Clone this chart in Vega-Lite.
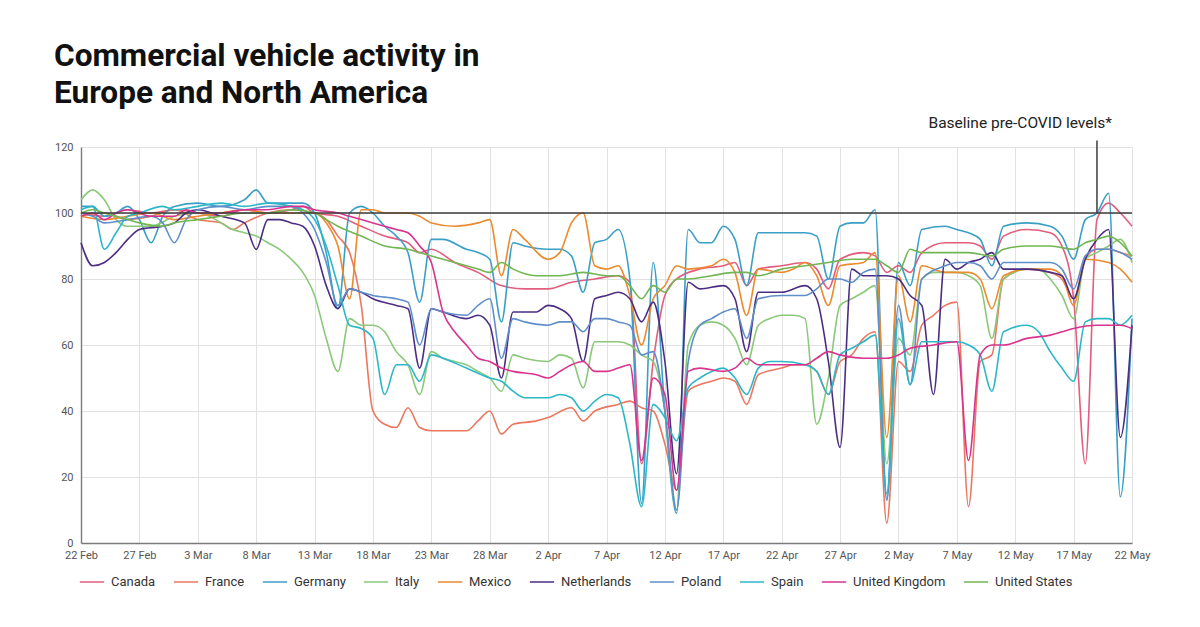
{
  "$schema": "https://vega.github.io/schema/vega-lite/v6.json",
  "autosize": {"type": "none"},
  "width": 1051,
  "height": 396,
  "padding": {"left": 81, "top": 147, "right": 68, "bottom": 84},
  "background": "white",
  "title": {
    "text": ["Commercial vehicle activity in", "Europe and North America"],
    "anchor": "start",
    "frame": "group",
    "font": "Roboto",
    "fontSize": 31.6,
    "fontWeight": "bold",
    "color": "#111111",
    "lineHeight": 37,
    "offset": 6,
    "dx": -27
  },
  "layer": [
    {
      "data": {"values": [
    {"c":"Canada","d":"2020-02-22","v":100},{"c":"Canada","d":"2020-02-24","v":99},{"c":"Canada","d":"2020-02-26","v":101},{"c":"Canada","d":"2020-02-28","v":100},{"c":"Canada","d":"2020-03-01","v":101},{"c":"Canada","d":"2020-03-03","v":100},{"c":"Canada","d":"2020-03-05","v":99},{"c":"Canada","d":"2020-03-07","v":101},{"c":"Canada","d":"2020-03-09","v":100},{"c":"Canada","d":"2020-03-11","v":101},{"c":"Canada","d":"2020-03-12","v":102},{"c":"Canada","d":"2020-03-13","v":100},{"c":"Canada","d":"2020-03-15","v":99},{"c":"Canada","d":"2020-03-17","v":96},{"c":"Canada","d":"2020-03-19","v":93},{"c":"Canada","d":"2020-03-21","v":91},{"c":"Canada","d":"2020-03-22","v":88},{"c":"Canada","d":"2020-03-23","v":89},{"c":"Canada","d":"2020-03-25","v":85},{"c":"Canada","d":"2020-03-27","v":82},{"c":"Canada","d":"2020-03-29","v":78},{"c":"Canada","d":"2020-03-31","v":77},{"c":"Canada","d":"2020-04-02","v":77},{"c":"Canada","d":"2020-04-04","v":79},{"c":"Canada","d":"2020-04-06","v":80},{"c":"Canada","d":"2020-04-08","v":81},{"c":"Canada","d":"2020-04-09","v":79},{"c":"Canada","d":"2020-04-10","v":24},{"c":"Canada","d":"2020-04-11","v":55},{"c":"Canada","d":"2020-04-12","v":75},{"c":"Canada","d":"2020-04-13","v":80},{"c":"Canada","d":"2020-04-15","v":83},{"c":"Canada","d":"2020-04-17","v":84},{"c":"Canada","d":"2020-04-18","v":85},{"c":"Canada","d":"2020-04-19","v":78},{"c":"Canada","d":"2020-04-20","v":83},{"c":"Canada","d":"2020-04-22","v":84},{"c":"Canada","d":"2020-04-24","v":85},{"c":"Canada","d":"2020-04-25","v":83},{"c":"Canada","d":"2020-04-26","v":77},{"c":"Canada","d":"2020-04-27","v":86},{"c":"Canada","d":"2020-04-29","v":88},{"c":"Canada","d":"2020-04-30","v":87},{"c":"Canada","d":"2020-05-01","v":82},{"c":"Canada","d":"2020-05-02","v":84},{"c":"Canada","d":"2020-05-03","v":82},{"c":"Canada","d":"2020-05-04","v":88},{"c":"Canada","d":"2020-05-06","v":91},{"c":"Canada","d":"2020-05-08","v":91},{"c":"Canada","d":"2020-05-09","v":90},{"c":"Canada","d":"2020-05-10","v":86},{"c":"Canada","d":"2020-05-11","v":93},{"c":"Canada","d":"2020-05-13","v":95},{"c":"Canada","d":"2020-05-15","v":94},{"c":"Canada","d":"2020-05-16","v":90},{"c":"Canada","d":"2020-05-17","v":74},{"c":"Canada","d":"2020-05-18","v":24},{"c":"Canada","d":"2020-05-19","v":98},{"c":"Canada","d":"2020-05-20","v":103},{"c":"Canada","d":"2020-05-21","v":100},{"c":"Canada","d":"2020-05-22","v":96},

    {"c":"France","d":"2020-02-22","v":99},{"c":"France","d":"2020-02-24","v":100},{"c":"France","d":"2020-02-26","v":98},{"c":"France","d":"2020-02-28","v":99},{"c":"France","d":"2020-03-01","v":101},{"c":"France","d":"2020-03-03","v":98},{"c":"France","d":"2020-03-05","v":97},{"c":"France","d":"2020-03-06","v":95},{"c":"France","d":"2020-03-07","v":97},{"c":"France","d":"2020-03-09","v":100},{"c":"France","d":"2020-03-11","v":101},{"c":"France","d":"2020-03-13","v":100},{"c":"France","d":"2020-03-14","v":98},{"c":"France","d":"2020-03-15","v":93},{"c":"France","d":"2020-03-16","v":88},{"c":"France","d":"2020-03-17","v":72},{"c":"France","d":"2020-03-18","v":40},{"c":"France","d":"2020-03-19","v":36},{"c":"France","d":"2020-03-20","v":35},{"c":"France","d":"2020-03-21","v":41},{"c":"France","d":"2020-03-22","v":35},{"c":"France","d":"2020-03-23","v":34},{"c":"France","d":"2020-03-25","v":34},{"c":"France","d":"2020-03-26","v":34},{"c":"France","d":"2020-03-27","v":37},{"c":"France","d":"2020-03-28","v":40},{"c":"France","d":"2020-03-29","v":33},{"c":"France","d":"2020-03-30","v":36},{"c":"France","d":"2020-04-01","v":37},{"c":"France","d":"2020-04-02","v":38},{"c":"France","d":"2020-04-04","v":41},{"c":"France","d":"2020-04-05","v":37},{"c":"France","d":"2020-04-06","v":40},{"c":"France","d":"2020-04-08","v":42},{"c":"France","d":"2020-04-09","v":43},{"c":"France","d":"2020-04-10","v":41},{"c":"France","d":"2020-04-11","v":40},{"c":"France","d":"2020-04-12","v":30},{"c":"France","d":"2020-04-13","v":16},{"c":"France","d":"2020-04-14","v":46},{"c":"France","d":"2020-04-15","v":48},{"c":"France","d":"2020-04-16","v":49},{"c":"France","d":"2020-04-17","v":50},{"c":"France","d":"2020-04-18","v":49},{"c":"France","d":"2020-04-19","v":42},{"c":"France","d":"2020-04-20","v":51},{"c":"France","d":"2020-04-22","v":53},{"c":"France","d":"2020-04-23","v":54},{"c":"France","d":"2020-04-24","v":54},{"c":"France","d":"2020-04-25","v":52},{"c":"France","d":"2020-04-26","v":45},{"c":"France","d":"2020-04-27","v":55},{"c":"France","d":"2020-04-28","v":57},{"c":"France","d":"2020-04-29","v":62},{"c":"France","d":"2020-04-30","v":64},{"c":"France","d":"2020-05-01","v":6},{"c":"France","d":"2020-05-02","v":55},{"c":"France","d":"2020-05-03","v":52},{"c":"France","d":"2020-05-04","v":66},{"c":"France","d":"2020-05-05","v":69},{"c":"France","d":"2020-05-06","v":72},{"c":"France","d":"2020-05-07","v":73},{"c":"France","d":"2020-05-08","v":11},{"c":"France","d":"2020-05-09","v":55},{"c":"France","d":"2020-05-10","v":57},{"c":"France","d":"2020-05-11","v":80},{"c":"France","d":"2020-05-13","v":83},{"c":"France","d":"2020-05-15","v":82},{"c":"France","d":"2020-05-16","v":80},{"c":"France","d":"2020-05-17","v":74},{"c":"France","d":"2020-05-18","v":86},{"c":"France","d":"2020-05-19","v":89},{"c":"France","d":"2020-05-20","v":89},{"c":"France","d":"2020-05-21","v":88},{"c":"France","d":"2020-05-22","v":87},

    {"c":"Germany","d":"2020-02-22","v":102},{"c":"Germany","d":"2020-02-23","v":102},{"c":"Germany","d":"2020-02-24","v":99},{"c":"Germany","d":"2020-02-25","v":100},{"c":"Germany","d":"2020-02-26","v":102},{"c":"Germany","d":"2020-02-27","v":98},{"c":"Germany","d":"2020-02-28","v":91},{"c":"Germany","d":"2020-02-29","v":99},{"c":"Germany","d":"2020-03-01","v":102},{"c":"Germany","d":"2020-03-03","v":103},{"c":"Germany","d":"2020-03-05","v":102},{"c":"Germany","d":"2020-03-07","v":104},{"c":"Germany","d":"2020-03-08","v":107},{"c":"Germany","d":"2020-03-09","v":103},{"c":"Germany","d":"2020-03-11","v":103},{"c":"Germany","d":"2020-03-12","v":103},{"c":"Germany","d":"2020-03-13","v":100},{"c":"Germany","d":"2020-03-14","v":88},{"c":"Germany","d":"2020-03-15","v":71},{"c":"Germany","d":"2020-03-16","v":100},{"c":"Germany","d":"2020-03-17","v":102},{"c":"Germany","d":"2020-03-18","v":100},{"c":"Germany","d":"2020-03-19","v":96},{"c":"Germany","d":"2020-03-20","v":93},{"c":"Germany","d":"2020-03-21","v":88},{"c":"Germany","d":"2020-03-22","v":73},{"c":"Germany","d":"2020-03-23","v":92},{"c":"Germany","d":"2020-03-24","v":92},{"c":"Germany","d":"2020-03-26","v":89},{"c":"Germany","d":"2020-03-27","v":88},{"c":"Germany","d":"2020-03-28","v":86},{"c":"Germany","d":"2020-03-29","v":67},{"c":"Germany","d":"2020-03-30","v":91},{"c":"Germany","d":"2020-03-31","v":90},{"c":"Germany","d":"2020-04-02","v":89},{"c":"Germany","d":"2020-04-03","v":89},{"c":"Germany","d":"2020-04-04","v":87},{"c":"Germany","d":"2020-04-05","v":76},{"c":"Germany","d":"2020-04-06","v":91},{"c":"Germany","d":"2020-04-07","v":92},{"c":"Germany","d":"2020-04-08","v":95},{"c":"Germany","d":"2020-04-09","v":80},{"c":"Germany","d":"2020-04-10","v":12},{"c":"Germany","d":"2020-04-11","v":85},{"c":"Germany","d":"2020-04-12","v":40},{"c":"Germany","d":"2020-04-13","v":9},{"c":"Germany","d":"2020-04-14","v":95},{"c":"Germany","d":"2020-04-15","v":91},{"c":"Germany","d":"2020-04-16","v":91},{"c":"Germany","d":"2020-04-17","v":96},{"c":"Germany","d":"2020-04-18","v":92},{"c":"Germany","d":"2020-04-19","v":78},{"c":"Germany","d":"2020-04-20","v":94},{"c":"Germany","d":"2020-04-22","v":94},{"c":"Germany","d":"2020-04-24","v":94},{"c":"Germany","d":"2020-04-25","v":93},{"c":"Germany","d":"2020-04-26","v":80},{"c":"Germany","d":"2020-04-27","v":96},{"c":"Germany","d":"2020-04-28","v":97},{"c":"Germany","d":"2020-04-29","v":97},{"c":"Germany","d":"2020-04-30","v":101},{"c":"Germany","d":"2020-05-01","v":13},{"c":"Germany","d":"2020-05-02","v":85},{"c":"Germany","d":"2020-05-03","v":78},{"c":"Germany","d":"2020-05-04","v":95},{"c":"Germany","d":"2020-05-06","v":96},{"c":"Germany","d":"2020-05-07","v":95},{"c":"Germany","d":"2020-05-08","v":94},{"c":"Germany","d":"2020-05-09","v":92},{"c":"Germany","d":"2020-05-10","v":84},{"c":"Germany","d":"2020-05-11","v":96},{"c":"Germany","d":"2020-05-13","v":97},{"c":"Germany","d":"2020-05-15","v":96},{"c":"Germany","d":"2020-05-16","v":93},{"c":"Germany","d":"2020-05-17","v":86},{"c":"Germany","d":"2020-05-18","v":98},{"c":"Germany","d":"2020-05-19","v":100},{"c":"Germany","d":"2020-05-20","v":106},{"c":"Germany","d":"2020-05-21","v":14},{"c":"Germany","d":"2020-05-22","v":68},

    {"c":"Italy","d":"2020-02-22","v":104},{"c":"Italy","d":"2020-02-23","v":107},{"c":"Italy","d":"2020-02-24","v":104},{"c":"Italy","d":"2020-02-25","v":98},{"c":"Italy","d":"2020-02-26","v":96},{"c":"Italy","d":"2020-02-28","v":96},{"c":"Italy","d":"2020-03-01","v":99},{"c":"Italy","d":"2020-03-03","v":100},{"c":"Italy","d":"2020-03-04","v":99},{"c":"Italy","d":"2020-03-05","v":97},{"c":"Italy","d":"2020-03-06","v":95},{"c":"Italy","d":"2020-03-07","v":94},{"c":"Italy","d":"2020-03-08","v":93},{"c":"Italy","d":"2020-03-09","v":91},{"c":"Italy","d":"2020-03-10","v":89},{"c":"Italy","d":"2020-03-11","v":86},{"c":"Italy","d":"2020-03-12","v":82},{"c":"Italy","d":"2020-03-13","v":75},{"c":"Italy","d":"2020-03-14","v":62},{"c":"Italy","d":"2020-03-15","v":52},{"c":"Italy","d":"2020-03-16","v":68},{"c":"Italy","d":"2020-03-17","v":66},{"c":"Italy","d":"2020-03-18","v":66},{"c":"Italy","d":"2020-03-19","v":64},{"c":"Italy","d":"2020-03-20","v":58},{"c":"Italy","d":"2020-03-21","v":54},{"c":"Italy","d":"2020-03-22","v":45},{"c":"Italy","d":"2020-03-23","v":58},{"c":"Italy","d":"2020-03-24","v":56},{"c":"Italy","d":"2020-03-25","v":55},{"c":"Italy","d":"2020-03-26","v":54},{"c":"Italy","d":"2020-03-27","v":52},{"c":"Italy","d":"2020-03-28","v":50},{"c":"Italy","d":"2020-03-29","v":46},{"c":"Italy","d":"2020-03-30","v":57},{"c":"Italy","d":"2020-03-31","v":56},{"c":"Italy","d":"2020-04-02","v":55},{"c":"Italy","d":"2020-04-03","v":57},{"c":"Italy","d":"2020-04-04","v":56},{"c":"Italy","d":"2020-04-05","v":47},{"c":"Italy","d":"2020-04-06","v":61},{"c":"Italy","d":"2020-04-08","v":61},{"c":"Italy","d":"2020-04-09","v":60},{"c":"Italy","d":"2020-04-10","v":57},{"c":"Italy","d":"2020-04-11","v":55},{"c":"Italy","d":"2020-04-12","v":40},{"c":"Italy","d":"2020-04-13","v":10},{"c":"Italy","d":"2020-04-14","v":60},{"c":"Italy","d":"2020-04-15","v":66},{"c":"Italy","d":"2020-04-16","v":67},{"c":"Italy","d":"2020-04-17","v":66},{"c":"Italy","d":"2020-04-18","v":62},{"c":"Italy","d":"2020-04-19","v":54},{"c":"Italy","d":"2020-04-20","v":66},{"c":"Italy","d":"2020-04-21","v":68},{"c":"Italy","d":"2020-04-22","v":69},{"c":"Italy","d":"2020-04-23","v":69},{"c":"Italy","d":"2020-04-24","v":68},{"c":"Italy","d":"2020-04-25","v":36},{"c":"Italy","d":"2020-04-26","v":50},{"c":"Italy","d":"2020-04-27","v":72},{"c":"Italy","d":"2020-04-28","v":74},{"c":"Italy","d":"2020-04-29","v":76},{"c":"Italy","d":"2020-04-30","v":78},{"c":"Italy","d":"2020-05-01","v":24},{"c":"Italy","d":"2020-05-02","v":62},{"c":"Italy","d":"2020-05-03","v":57},{"c":"Italy","d":"2020-05-04","v":80},{"c":"Italy","d":"2020-05-05","v":82},{"c":"Italy","d":"2020-05-07","v":82},{"c":"Italy","d":"2020-05-08","v":81},{"c":"Italy","d":"2020-05-09","v":78},{"c":"Italy","d":"2020-05-10","v":62},{"c":"Italy","d":"2020-05-11","v":80},{"c":"Italy","d":"2020-05-13","v":83},{"c":"Italy","d":"2020-05-14","v":83},{"c":"Italy","d":"2020-05-15","v":80},{"c":"Italy","d":"2020-05-16","v":75},{"c":"Italy","d":"2020-05-17","v":68},{"c":"Italy","d":"2020-05-18","v":86},{"c":"Italy","d":"2020-05-19","v":88},{"c":"Italy","d":"2020-05-20","v":90},{"c":"Italy","d":"2020-05-21","v":92},{"c":"Italy","d":"2020-05-22","v":85},

    {"c":"Mexico","d":"2020-02-22","v":99},{"c":"Mexico","d":"2020-02-24","v":98},{"c":"Mexico","d":"2020-02-26","v":99},{"c":"Mexico","d":"2020-02-28","v":100},{"c":"Mexico","d":"2020-03-01","v":98},{"c":"Mexico","d":"2020-03-03","v":99},{"c":"Mexico","d":"2020-03-05","v":100},{"c":"Mexico","d":"2020-03-07","v":101},{"c":"Mexico","d":"2020-03-09","v":100},{"c":"Mexico","d":"2020-03-11","v":100},{"c":"Mexico","d":"2020-03-13","v":100},{"c":"Mexico","d":"2020-03-14","v":97},{"c":"Mexico","d":"2020-03-15","v":90},{"c":"Mexico","d":"2020-03-16","v":74},{"c":"Mexico","d":"2020-03-17","v":101},{"c":"Mexico","d":"2020-03-18","v":101},{"c":"Mexico","d":"2020-03-19","v":100},{"c":"Mexico","d":"2020-03-21","v":100},{"c":"Mexico","d":"2020-03-22","v":99},{"c":"Mexico","d":"2020-03-23","v":97},{"c":"Mexico","d":"2020-03-25","v":96},{"c":"Mexico","d":"2020-03-27","v":97},{"c":"Mexico","d":"2020-03-28","v":98},{"c":"Mexico","d":"2020-03-29","v":81},{"c":"Mexico","d":"2020-03-30","v":95},{"c":"Mexico","d":"2020-03-31","v":92},{"c":"Mexico","d":"2020-04-02","v":86},{"c":"Mexico","d":"2020-04-03","v":88},{"c":"Mexico","d":"2020-04-04","v":97},{"c":"Mexico","d":"2020-04-05","v":100},{"c":"Mexico","d":"2020-04-06","v":84},{"c":"Mexico","d":"2020-04-07","v":83},{"c":"Mexico","d":"2020-04-08","v":84},{"c":"Mexico","d":"2020-04-09","v":75},{"c":"Mexico","d":"2020-04-10","v":60},{"c":"Mexico","d":"2020-04-11","v":74},{"c":"Mexico","d":"2020-04-12","v":78},{"c":"Mexico","d":"2020-04-13","v":84},{"c":"Mexico","d":"2020-04-14","v":83},{"c":"Mexico","d":"2020-04-16","v":84},{"c":"Mexico","d":"2020-04-17","v":86},{"c":"Mexico","d":"2020-04-18","v":82},{"c":"Mexico","d":"2020-04-19","v":69},{"c":"Mexico","d":"2020-04-20","v":83},{"c":"Mexico","d":"2020-04-22","v":82},{"c":"Mexico","d":"2020-04-23","v":83},{"c":"Mexico","d":"2020-04-24","v":85},{"c":"Mexico","d":"2020-04-25","v":81},{"c":"Mexico","d":"2020-04-26","v":72},{"c":"Mexico","d":"2020-04-27","v":84},{"c":"Mexico","d":"2020-04-29","v":85},{"c":"Mexico","d":"2020-04-30","v":88},{"c":"Mexico","d":"2020-05-01","v":32},{"c":"Mexico","d":"2020-05-02","v":81},{"c":"Mexico","d":"2020-05-03","v":67},{"c":"Mexico","d":"2020-05-04","v":84},{"c":"Mexico","d":"2020-05-06","v":82},{"c":"Mexico","d":"2020-05-08","v":82},{"c":"Mexico","d":"2020-05-09","v":80},{"c":"Mexico","d":"2020-05-10","v":71},{"c":"Mexico","d":"2020-05-11","v":81},{"c":"Mexico","d":"2020-05-13","v":83},{"c":"Mexico","d":"2020-05-15","v":83},{"c":"Mexico","d":"2020-05-16","v":81},{"c":"Mexico","d":"2020-05-17","v":72},{"c":"Mexico","d":"2020-05-18","v":86},{"c":"Mexico","d":"2020-05-20","v":85},{"c":"Mexico","d":"2020-05-21","v":83},{"c":"Mexico","d":"2020-05-22","v":79},

    {"c":"Netherlands","d":"2020-02-22","v":91},{"c":"Netherlands","d":"2020-02-23","v":84},{"c":"Netherlands","d":"2020-02-24","v":85},{"c":"Netherlands","d":"2020-02-25","v":88},{"c":"Netherlands","d":"2020-02-26","v":92},{"c":"Netherlands","d":"2020-02-27","v":95},{"c":"Netherlands","d":"2020-02-29","v":96},{"c":"Netherlands","d":"2020-03-01","v":97},{"c":"Netherlands","d":"2020-03-02","v":100},{"c":"Netherlands","d":"2020-03-03","v":101},{"c":"Netherlands","d":"2020-03-05","v":99},{"c":"Netherlands","d":"2020-03-07","v":97},{"c":"Netherlands","d":"2020-03-08","v":89},{"c":"Netherlands","d":"2020-03-09","v":98},{"c":"Netherlands","d":"2020-03-10","v":98},{"c":"Netherlands","d":"2020-03-11","v":97},{"c":"Netherlands","d":"2020-03-12","v":96},{"c":"Netherlands","d":"2020-03-13","v":90},{"c":"Netherlands","d":"2020-03-14","v":78},{"c":"Netherlands","d":"2020-03-15","v":71},{"c":"Netherlands","d":"2020-03-16","v":77},{"c":"Netherlands","d":"2020-03-17","v":76},{"c":"Netherlands","d":"2020-03-18","v":74},{"c":"Netherlands","d":"2020-03-20","v":72},{"c":"Netherlands","d":"2020-03-21","v":71},{"c":"Netherlands","d":"2020-03-22","v":53},{"c":"Netherlands","d":"2020-03-23","v":71},{"c":"Netherlands","d":"2020-03-24","v":70},{"c":"Netherlands","d":"2020-03-26","v":68},{"c":"Netherlands","d":"2020-03-27","v":69},{"c":"Netherlands","d":"2020-03-28","v":66},{"c":"Netherlands","d":"2020-03-29","v":50},{"c":"Netherlands","d":"2020-03-30","v":70},{"c":"Netherlands","d":"2020-04-01","v":70},{"c":"Netherlands","d":"2020-04-02","v":72},{"c":"Netherlands","d":"2020-04-03","v":71},{"c":"Netherlands","d":"2020-04-04","v":68},{"c":"Netherlands","d":"2020-04-05","v":55},{"c":"Netherlands","d":"2020-04-06","v":74},{"c":"Netherlands","d":"2020-04-07","v":75},{"c":"Netherlands","d":"2020-04-08","v":76},{"c":"Netherlands","d":"2020-04-09","v":74},{"c":"Netherlands","d":"2020-04-10","v":67},{"c":"Netherlands","d":"2020-04-11","v":73},{"c":"Netherlands","d":"2020-04-12","v":55},{"c":"Netherlands","d":"2020-04-13","v":21},{"c":"Netherlands","d":"2020-04-14","v":79},{"c":"Netherlands","d":"2020-04-15","v":77},{"c":"Netherlands","d":"2020-04-17","v":78},{"c":"Netherlands","d":"2020-04-18","v":74},{"c":"Netherlands","d":"2020-04-19","v":58},{"c":"Netherlands","d":"2020-04-20","v":76},{"c":"Netherlands","d":"2020-04-22","v":76},{"c":"Netherlands","d":"2020-04-24","v":78},{"c":"Netherlands","d":"2020-04-25","v":74},{"c":"Netherlands","d":"2020-04-26","v":55},{"c":"Netherlands","d":"2020-04-27","v":29},{"c":"Netherlands","d":"2020-04-28","v":83},{"c":"Netherlands","d":"2020-04-29","v":81},{"c":"Netherlands","d":"2020-05-01","v":81},{"c":"Netherlands","d":"2020-05-02","v":80},{"c":"Netherlands","d":"2020-05-03","v":75},{"c":"Netherlands","d":"2020-05-04","v":72},{"c":"Netherlands","d":"2020-05-05","v":45},{"c":"Netherlands","d":"2020-05-06","v":86},{"c":"Netherlands","d":"2020-05-07","v":83},{"c":"Netherlands","d":"2020-05-08","v":85},{"c":"Netherlands","d":"2020-05-09","v":86},{"c":"Netherlands","d":"2020-05-10","v":88},{"c":"Netherlands","d":"2020-05-11","v":83},{"c":"Netherlands","d":"2020-05-13","v":83},{"c":"Netherlands","d":"2020-05-15","v":82},{"c":"Netherlands","d":"2020-05-16","v":81},{"c":"Netherlands","d":"2020-05-17","v":74},{"c":"Netherlands","d":"2020-05-18","v":86},{"c":"Netherlands","d":"2020-05-19","v":92},{"c":"Netherlands","d":"2020-05-20","v":95},{"c":"Netherlands","d":"2020-05-21","v":32},{"c":"Netherlands","d":"2020-05-22","v":66},

    {"c":"Poland","d":"2020-02-22","v":100},{"c":"Poland","d":"2020-02-23","v":99},{"c":"Poland","d":"2020-02-24","v":97},{"c":"Poland","d":"2020-02-26","v":98},{"c":"Poland","d":"2020-02-28","v":99},{"c":"Poland","d":"2020-02-29","v":97},{"c":"Poland","d":"2020-03-01","v":91},{"c":"Poland","d":"2020-03-02","v":98},{"c":"Poland","d":"2020-03-03","v":101},{"c":"Poland","d":"2020-03-05","v":102},{"c":"Poland","d":"2020-03-07","v":101},{"c":"Poland","d":"2020-03-09","v":102},{"c":"Poland","d":"2020-03-11","v":102},{"c":"Poland","d":"2020-03-12","v":100},{"c":"Poland","d":"2020-03-13","v":95},{"c":"Poland","d":"2020-03-14","v":85},{"c":"Poland","d":"2020-03-15","v":72},{"c":"Poland","d":"2020-03-16","v":77},{"c":"Poland","d":"2020-03-17","v":76},{"c":"Poland","d":"2020-03-18","v":75},{"c":"Poland","d":"2020-03-20","v":74},{"c":"Poland","d":"2020-03-21","v":73},{"c":"Poland","d":"2020-03-22","v":60},{"c":"Poland","d":"2020-03-23","v":71},{"c":"Poland","d":"2020-03-24","v":70},{"c":"Poland","d":"2020-03-26","v":69},{"c":"Poland","d":"2020-03-27","v":72},{"c":"Poland","d":"2020-03-28","v":74},{"c":"Poland","d":"2020-03-29","v":56},{"c":"Poland","d":"2020-03-30","v":68},{"c":"Poland","d":"2020-03-31","v":67},{"c":"Poland","d":"2020-04-02","v":66},{"c":"Poland","d":"2020-04-03","v":67},{"c":"Poland","d":"2020-04-04","v":67},{"c":"Poland","d":"2020-04-05","v":64},{"c":"Poland","d":"2020-04-06","v":68},{"c":"Poland","d":"2020-04-07","v":68},{"c":"Poland","d":"2020-04-08","v":67},{"c":"Poland","d":"2020-04-09","v":66},{"c":"Poland","d":"2020-04-10","v":57},{"c":"Poland","d":"2020-04-11","v":58},{"c":"Poland","d":"2020-04-12","v":40},{"c":"Poland","d":"2020-04-13","v":10},{"c":"Poland","d":"2020-04-14","v":55},{"c":"Poland","d":"2020-04-15","v":66},{"c":"Poland","d":"2020-04-16","v":68},{"c":"Poland","d":"2020-04-17","v":70},{"c":"Poland","d":"2020-04-18","v":71},{"c":"Poland","d":"2020-04-19","v":62},{"c":"Poland","d":"2020-04-20","v":74},{"c":"Poland","d":"2020-04-22","v":75},{"c":"Poland","d":"2020-04-24","v":75},{"c":"Poland","d":"2020-04-25","v":77},{"c":"Poland","d":"2020-04-26","v":80},{"c":"Poland","d":"2020-04-27","v":80},{"c":"Poland","d":"2020-04-28","v":79},{"c":"Poland","d":"2020-04-29","v":82},{"c":"Poland","d":"2020-04-30","v":83},{"c":"Poland","d":"2020-05-01","v":13},{"c":"Poland","d":"2020-05-02","v":72},{"c":"Poland","d":"2020-05-03","v":48},{"c":"Poland","d":"2020-05-04","v":80},{"c":"Poland","d":"2020-05-06","v":84},{"c":"Poland","d":"2020-05-07","v":85},{"c":"Poland","d":"2020-05-08","v":85},{"c":"Poland","d":"2020-05-09","v":84},{"c":"Poland","d":"2020-05-10","v":80},{"c":"Poland","d":"2020-05-11","v":85},{"c":"Poland","d":"2020-05-13","v":85},{"c":"Poland","d":"2020-05-15","v":85},{"c":"Poland","d":"2020-05-16","v":83},{"c":"Poland","d":"2020-05-17","v":77},{"c":"Poland","d":"2020-05-18","v":87},{"c":"Poland","d":"2020-05-19","v":89},{"c":"Poland","d":"2020-05-20","v":89},{"c":"Poland","d":"2020-05-21","v":88},{"c":"Poland","d":"2020-05-22","v":86},

    {"c":"Spain","d":"2020-02-22","v":101},{"c":"Spain","d":"2020-02-23","v":102},{"c":"Spain","d":"2020-02-24","v":89},{"c":"Spain","d":"2020-02-25","v":94},{"c":"Spain","d":"2020-02-26","v":99},{"c":"Spain","d":"2020-02-27","v":100},{"c":"Spain","d":"2020-02-29","v":102},{"c":"Spain","d":"2020-03-01","v":101},{"c":"Spain","d":"2020-03-03","v":102},{"c":"Spain","d":"2020-03-05","v":103},{"c":"Spain","d":"2020-03-07","v":102},{"c":"Spain","d":"2020-03-09","v":103},{"c":"Spain","d":"2020-03-11","v":102},{"c":"Spain","d":"2020-03-12","v":101},{"c":"Spain","d":"2020-03-13","v":98},{"c":"Spain","d":"2020-03-14","v":90},{"c":"Spain","d":"2020-03-15","v":78},{"c":"Spain","d":"2020-03-16","v":66},{"c":"Spain","d":"2020-03-17","v":65},{"c":"Spain","d":"2020-03-18","v":62},{"c":"Spain","d":"2020-03-19","v":45},{"c":"Spain","d":"2020-03-20","v":54},{"c":"Spain","d":"2020-03-21","v":54},{"c":"Spain","d":"2020-03-22","v":49},{"c":"Spain","d":"2020-03-23","v":57},{"c":"Spain","d":"2020-03-24","v":56},{"c":"Spain","d":"2020-03-26","v":53},{"c":"Spain","d":"2020-03-28","v":50},{"c":"Spain","d":"2020-03-29","v":49},{"c":"Spain","d":"2020-03-30","v":46},{"c":"Spain","d":"2020-03-31","v":44},{"c":"Spain","d":"2020-04-02","v":44},{"c":"Spain","d":"2020-04-03","v":45},{"c":"Spain","d":"2020-04-04","v":44},{"c":"Spain","d":"2020-04-05","v":40},{"c":"Spain","d":"2020-04-06","v":43},{"c":"Spain","d":"2020-04-07","v":45},{"c":"Spain","d":"2020-04-08","v":44},{"c":"Spain","d":"2020-04-09","v":30},{"c":"Spain","d":"2020-04-10","v":11},{"c":"Spain","d":"2020-04-11","v":42},{"c":"Spain","d":"2020-04-12","v":38},{"c":"Spain","d":"2020-04-13","v":31},{"c":"Spain","d":"2020-04-14","v":47},{"c":"Spain","d":"2020-04-15","v":50},{"c":"Spain","d":"2020-04-16","v":52},{"c":"Spain","d":"2020-04-17","v":53},{"c":"Spain","d":"2020-04-18","v":50},{"c":"Spain","d":"2020-04-19","v":45},{"c":"Spain","d":"2020-04-20","v":53},{"c":"Spain","d":"2020-04-21","v":55},{"c":"Spain","d":"2020-04-22","v":55},{"c":"Spain","d":"2020-04-24","v":54},{"c":"Spain","d":"2020-04-25","v":52},{"c":"Spain","d":"2020-04-26","v":45},{"c":"Spain","d":"2020-04-27","v":57},{"c":"Spain","d":"2020-04-28","v":59},{"c":"Spain","d":"2020-04-29","v":61},{"c":"Spain","d":"2020-04-30","v":63},{"c":"Spain","d":"2020-05-01","v":15},{"c":"Spain","d":"2020-05-02","v":68},{"c":"Spain","d":"2020-05-03","v":48},{"c":"Spain","d":"2020-05-04","v":61},{"c":"Spain","d":"2020-05-06","v":61},{"c":"Spain","d":"2020-05-07","v":61},{"c":"Spain","d":"2020-05-08","v":60},{"c":"Spain","d":"2020-05-09","v":57},{"c":"Spain","d":"2020-05-10","v":46},{"c":"Spain","d":"2020-05-11","v":64},{"c":"Spain","d":"2020-05-13","v":66},{"c":"Spain","d":"2020-05-14","v":64},{"c":"Spain","d":"2020-05-15","v":58},{"c":"Spain","d":"2020-05-16","v":53},{"c":"Spain","d":"2020-05-17","v":49},{"c":"Spain","d":"2020-05-18","v":67},{"c":"Spain","d":"2020-05-19","v":68},{"c":"Spain","d":"2020-05-20","v":68},{"c":"Spain","d":"2020-05-21","v":66},{"c":"Spain","d":"2020-05-22","v":69},

    {"c":"United Kingdom","d":"2020-02-22","v":99},{"c":"United Kingdom","d":"2020-02-23","v":100},{"c":"United Kingdom","d":"2020-02-24","v":98},{"c":"United Kingdom","d":"2020-02-25","v":100},{"c":"United Kingdom","d":"2020-02-26","v":101},{"c":"United Kingdom","d":"2020-02-28","v":99},{"c":"United Kingdom","d":"2020-03-01","v":99},{"c":"United Kingdom","d":"2020-03-02","v":101},{"c":"United Kingdom","d":"2020-03-03","v":100},{"c":"United Kingdom","d":"2020-03-05","v":100},{"c":"United Kingdom","d":"2020-03-07","v":101},{"c":"United Kingdom","d":"2020-03-09","v":101},{"c":"United Kingdom","d":"2020-03-11","v":102},{"c":"United Kingdom","d":"2020-03-12","v":102},{"c":"United Kingdom","d":"2020-03-13","v":101},{"c":"United Kingdom","d":"2020-03-15","v":100},{"c":"United Kingdom","d":"2020-03-16","v":99},{"c":"United Kingdom","d":"2020-03-17","v":98},{"c":"United Kingdom","d":"2020-03-18","v":97},{"c":"United Kingdom","d":"2020-03-19","v":96},{"c":"United Kingdom","d":"2020-03-20","v":95},{"c":"United Kingdom","d":"2020-03-21","v":94},{"c":"United Kingdom","d":"2020-03-22","v":90},{"c":"United Kingdom","d":"2020-03-23","v":85},{"c":"United Kingdom","d":"2020-03-24","v":70},{"c":"United Kingdom","d":"2020-03-25","v":64},{"c":"United Kingdom","d":"2020-03-26","v":60},{"c":"United Kingdom","d":"2020-03-27","v":56},{"c":"United Kingdom","d":"2020-03-28","v":55},{"c":"United Kingdom","d":"2020-03-29","v":53},{"c":"United Kingdom","d":"2020-03-30","v":52},{"c":"United Kingdom","d":"2020-04-01","v":51},{"c":"United Kingdom","d":"2020-04-02","v":50},{"c":"United Kingdom","d":"2020-04-03","v":52},{"c":"United Kingdom","d":"2020-04-04","v":54},{"c":"United Kingdom","d":"2020-04-05","v":55},{"c":"United Kingdom","d":"2020-04-06","v":52},{"c":"United Kingdom","d":"2020-04-07","v":52},{"c":"United Kingdom","d":"2020-04-08","v":53},{"c":"United Kingdom","d":"2020-04-09","v":54},{"c":"United Kingdom","d":"2020-04-10","v":25},{"c":"United Kingdom","d":"2020-04-11","v":50},{"c":"United Kingdom","d":"2020-04-12","v":45},{"c":"United Kingdom","d":"2020-04-13","v":16},{"c":"United Kingdom","d":"2020-04-14","v":52},{"c":"United Kingdom","d":"2020-04-15","v":53},{"c":"United Kingdom","d":"2020-04-17","v":52},{"c":"United Kingdom","d":"2020-04-18","v":53},{"c":"United Kingdom","d":"2020-04-19","v":56},{"c":"United Kingdom","d":"2020-04-20","v":54},{"c":"United Kingdom","d":"2020-04-22","v":54},{"c":"United Kingdom","d":"2020-04-24","v":54},{"c":"United Kingdom","d":"2020-04-25","v":56},{"c":"United Kingdom","d":"2020-04-26","v":58},{"c":"United Kingdom","d":"2020-04-27","v":57},{"c":"United Kingdom","d":"2020-04-29","v":56},{"c":"United Kingdom","d":"2020-05-01","v":56},{"c":"United Kingdom","d":"2020-05-02","v":57},{"c":"United Kingdom","d":"2020-05-03","v":59},{"c":"United Kingdom","d":"2020-05-05","v":60},{"c":"United Kingdom","d":"2020-05-07","v":61},{"c":"United Kingdom","d":"2020-05-08","v":25},{"c":"United Kingdom","d":"2020-05-09","v":57},{"c":"United Kingdom","d":"2020-05-10","v":60},{"c":"United Kingdom","d":"2020-05-11","v":60},{"c":"United Kingdom","d":"2020-05-13","v":62},{"c":"United Kingdom","d":"2020-05-15","v":63},{"c":"United Kingdom","d":"2020-05-16","v":64},{"c":"United Kingdom","d":"2020-05-17","v":65},{"c":"United Kingdom","d":"2020-05-19","v":66},{"c":"United Kingdom","d":"2020-05-21","v":66},{"c":"United Kingdom","d":"2020-05-22","v":65},

    {"c":"United States","d":"2020-02-22","v":100},{"c":"United States","d":"2020-02-23","v":101},{"c":"United States","d":"2020-02-24","v":100},{"c":"United States","d":"2020-02-25","v":99},{"c":"United States","d":"2020-02-26","v":98},{"c":"United States","d":"2020-02-27","v":97},{"c":"United States","d":"2020-02-29","v":96},{"c":"United States","d":"2020-03-01","v":97},{"c":"United States","d":"2020-03-03","v":98},{"c":"United States","d":"2020-03-05","v":99},{"c":"United States","d":"2020-03-07","v":100},{"c":"United States","d":"2020-03-09","v":100},{"c":"United States","d":"2020-03-11","v":101},{"c":"United States","d":"2020-03-13","v":100},{"c":"United States","d":"2020-03-14","v":98},{"c":"United States","d":"2020-03-15","v":96},{"c":"United States","d":"2020-03-17","v":93},{"c":"United States","d":"2020-03-19","v":90},{"c":"United States","d":"2020-03-21","v":89},{"c":"United States","d":"2020-03-22","v":88},{"c":"United States","d":"2020-03-23","v":87},{"c":"United States","d":"2020-03-25","v":85},{"c":"United States","d":"2020-03-27","v":83},{"c":"United States","d":"2020-03-28","v":82},{"c":"United States","d":"2020-03-29","v":85},{"c":"United States","d":"2020-03-30","v":83},{"c":"United States","d":"2020-04-01","v":81},{"c":"United States","d":"2020-04-03","v":81},{"c":"United States","d":"2020-04-05","v":82},{"c":"United States","d":"2020-04-07","v":81},{"c":"United States","d":"2020-04-08","v":81},{"c":"United States","d":"2020-04-09","v":78},{"c":"United States","d":"2020-04-10","v":74},{"c":"United States","d":"2020-04-11","v":78},{"c":"United States","d":"2020-04-12","v":76},{"c":"United States","d":"2020-04-13","v":80},{"c":"United States","d":"2020-04-14","v":80},{"c":"United States","d":"2020-04-16","v":81},{"c":"United States","d":"2020-04-18","v":82},{"c":"United States","d":"2020-04-19","v":82},{"c":"United States","d":"2020-04-20","v":81},{"c":"United States","d":"2020-04-22","v":83},{"c":"United States","d":"2020-04-24","v":84},{"c":"United States","d":"2020-04-26","v":85},{"c":"United States","d":"2020-04-28","v":86},{"c":"United States","d":"2020-04-30","v":86},{"c":"United States","d":"2020-05-01","v":84},{"c":"United States","d":"2020-05-02","v":82},{"c":"United States","d":"2020-05-03","v":89},{"c":"United States","d":"2020-05-04","v":88},{"c":"United States","d":"2020-05-06","v":88},{"c":"United States","d":"2020-05-08","v":88},{"c":"United States","d":"2020-05-10","v":87},{"c":"United States","d":"2020-05-11","v":89},{"c":"United States","d":"2020-05-13","v":90},{"c":"United States","d":"2020-05-15","v":90},{"c":"United States","d":"2020-05-17","v":89},{"c":"United States","d":"2020-05-18","v":91},{"c":"United States","d":"2020-05-19","v":92},{"c":"United States","d":"2020-05-20","v":93},{"c":"United States","d":"2020-05-21","v":91},{"c":"United States","d":"2020-05-22","v":87}
      ]},
      "mark": {"type": "line", "interpolate": "monotone", "strokeWidth": 1.6},
      "encoding": {
        "x": {
          "field": "d",
          "type": "temporal",
          "scale": {
            "type": "utc",
            "nice": false,
            "domain": [
              {"year": 2020, "month": "feb", "date": 22, "utc": true},
              {"year": 2020, "month": "may", "date": 22, "utc": true}
            ]
          },
          "axis": {
            "title": null,
            "labelExpr": "utcFormat(datum.value, '%-d %b')",
            "labelFlush": false,
            "labelOverlap": false,
            "values": [
              {"year": 2020, "month": "feb", "date": 22, "utc": true},
              {"year": 2020, "month": "feb", "date": 27, "utc": true},
              {"year": 2020, "month": "mar", "date": 3, "utc": true},
              {"year": 2020, "month": "mar", "date": 8, "utc": true},
              {"year": 2020, "month": "mar", "date": 13, "utc": true},
              {"year": 2020, "month": "mar", "date": 18, "utc": true},
              {"year": 2020, "month": "mar", "date": 23, "utc": true},
              {"year": 2020, "month": "mar", "date": 28, "utc": true},
              {"year": 2020, "month": "apr", "date": 2, "utc": true},
              {"year": 2020, "month": "apr", "date": 7, "utc": true},
              {"year": 2020, "month": "apr", "date": 12, "utc": true},
              {"year": 2020, "month": "apr", "date": 17, "utc": true},
              {"year": 2020, "month": "apr", "date": 22, "utc": true},
              {"year": 2020, "month": "apr", "date": 27, "utc": true},
              {"year": 2020, "month": "may", "date": 2, "utc": true},
              {"year": 2020, "month": "may", "date": 7, "utc": true},
              {"year": 2020, "month": "may", "date": 12, "utc": true},
              {"year": 2020, "month": "may", "date": 17, "utc": true},
              {"year": 2020, "month": "may", "date": 22, "utc": true}
            ],
            "labelPadding": 6
          }
        },
        "y": {
          "field": "v",
          "type": "quantitative",
          "scale": {"domain": [0, 120], "nice": false},
          "axis": {
            "title": null,
            "values": [0, 10, 20, 30, 40, 50, 60, 70, 80, 90, 100, 110, 120],
            "labelExpr": "datum.value % 20 == 0 ? datum.label : ''",
            "labelPadding": 8
          }
        },
        "color": {
          "field": "c",
          "type": "nominal",
          "scale": {
            "domain": ["Canada", "France", "Germany", "Italy", "Mexico", "Netherlands", "Poland", "Spain", "United Kingdom", "United States"],
            "range": ["#e25d7e", "#ea7760", "#3a9fc6", "#8bc97a", "#ec8a2e", "#4b2e83", "#5f8ec9", "#2cb7c9", "#d9338f", "#72b653"]
          },
          "legend": {
            "title": null,
            "orient": "none",
            "legendX": -2,
            "legendY": 422,
            "direction": "horizontal",
            "columns": 10,
            "columnPadding": 14,
            "symbolType": "stroke",
            "symbolSize": 590,
            "symbolStrokeWidth": 1.5,
            "labelOffset": 6,
            "labelFont": "Roboto",
            "labelFontSize": 13,
            "labelColor": "#333333"
          }
        }
      }
    },
    {
      "data": {"values": [{}]},
      "mark": {"type": "rule", "color": "#3d3d3d", "strokeWidth": 1.5},
      "encoding": {"y": {"datum": 100}}
    },
    {
      "data": {"values": [{}]},
      "mark": {"type": "rule", "color": "#3d3d3d", "strokeWidth": 1.5},
      "encoding": {
        "x": {"datum": {"year": 2020, "month": "may", "date": 19, "utc": true}, "type": "temporal"},
        "y": {"datum": 100},
        "y2": {"datum": 122}
      }
    },
    {
      "data": {"values": [{}]},
      "mark": {"type": "text", "font": "Roboto", "fontSize": 15.5, "color": "#222222", "align": "center", "baseline": "middle", "dx": 5},
      "encoding": {
        "x": {"datum": {"year": 2020, "month": "may", "date": 12, "utc": true}, "type": "temporal"},
        "y": {"datum": 127.3},
        "text": {"value": "Baseline pre-COVID levels*"}
      }
    }
  ],
  "config": {
    "view": {"stroke": null},
    "axis": {
      "labelFont": "Roboto",
      "labelFontSize": 11,
      "labelColor": "#555555",
      "tickSize": 0,
      "domainColor": "#7a7a7a",
      "domainWidth": 1.4,
      "gridColor": "#e2e2e2",
      "grid": true
    }
  }
}
